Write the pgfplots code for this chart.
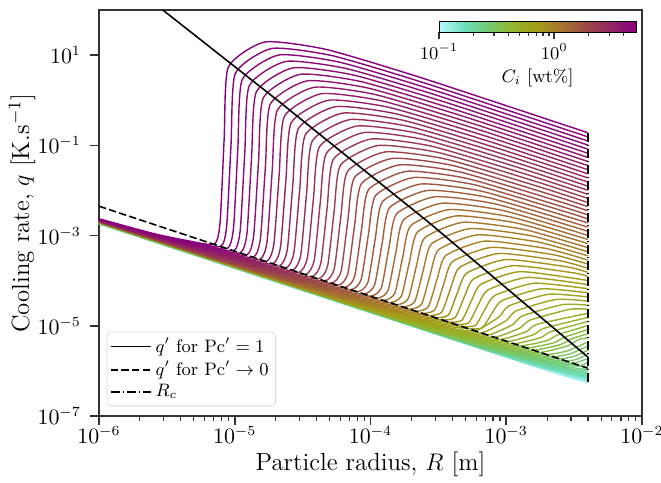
\documentclass[border=0pt]{standalone}
\usepackage{pgfplots}
\pgfplotsset{compat=1.18}
% colormap for C_i (log scale 0.1 .. ~5 wt%)
\pgfplotsset{colormap={cimap}{rgb255=(182,250,255) rgb255=(110,222,190) rgb255=(115,202,110) rgb255=(148,182,45) rgb255=(165,155,22) rgb255=(165,115,48) rgb255=(155,72,72) rgb255=(147,35,100) rgb255=(135,0,125)}}
\pgfplotsset{
  cvs/.style={color of colormap={#1 of cimap}, line width=0.7pt, forget plot, mark=none},
  cv/.style={cvs=#1, smooth, tension=0.35},
}
\begin{document}
\begin{tikzpicture}
\begin{axis}[
  scale only axis, width=271.5pt, height=203pt,
  xmin=-6, xmax=-2, ymin=-7, ymax=2,
  xtick={-6,-5,-4,-3,-2},
  xticklabels={$10^{-6}$,$10^{-5}$,$10^{-4}$,$10^{-3}$,$10^{-2}$},
  minor xtick={-5.699,-5.523,-5.398,-5.301,-5.222,-5.155,-5.097,-5.046,
               -4.699,-4.523,-4.398,-4.301,-4.222,-4.155,-4.097,-4.046,
               -3.699,-3.523,-3.398,-3.301,-3.222,-3.155,-3.097,-3.046,
               -2.699,-2.523,-2.398,-2.301,-2.222,-2.155,-2.097,-2.046},
  ytick={-7,-5,-3,-1,1},
  yticklabels={$10^{-7}$,$10^{-5}$,$10^{-3}$,$10^{-1}$,$10^{1}$},
  xtick pos=bottom, ytick pos=left, tick align=outside,
  major tick length=4.5pt, minor tick length=2.5pt,
  axis line style={black!80, line width=0.8pt},
  every tick/.style={black!80, line width=0.8pt},
  every minor tick/.style={black!80, line width=0.6pt},
  tick label style={font=\fontsize{10.5}{12}\selectfont},
  yticklabel style={xshift=-1pt},
  xticklabel style={yshift=3pt},
  label style={font=\fontsize{12.4}{14}\selectfont},
  xlabel={Particle radius, $R$ [m]},
  ylabel={Cooling rate, $q$ [K.s$^{-1}$]},
  xlabel style={at={(axis description cs:0.5,0)}, anchor=center, yshift=-24pt},
  ylabel style={at={([xshift=-38.5pt]axis description cs:0,0.5)}, anchor=center},
  colormap name=cimap,
  point meta min=-1, point meta max=0.71,
  colorbar horizontal,
  colorbar style={
    at={(parent axis.north east)}, anchor=north east, xshift=-3pt, yshift=3pt,
    width=98.5pt, height=5.5pt,
    xtick={-1,0}, xticklabels={$10^{-1}$,$10^{0}$},
    minor xtick={-0.699,-0.523,-0.398,-0.301,-0.222,-0.155,-0.097,-0.046,0.301,0.477,0.602},
    xtick pos=bottom, xticklabel pos=bottom, tick align=outside,
    major tick length=3.5pt, minor tick length=2pt,
    xlabel={$C_i$ [wt\%]},
    tick label style={font=\fontsize{9}{10}\selectfont},
    xticklabel style={yshift=1pt},
    label style={font=\fontsize{9}{11}\selectfont},
    xlabel style={yshift=2.3pt},
  },
  legend style={at={(0.014,0.024)}, anchor=south west, draw=black!15, rounded corners=2pt,
    fill=white, font=\fontsize{9}{10}\selectfont, inner xsep=1.5pt, inner ysep=1pt, row sep=-1pt},
  legend cell align=left,
  legend image code/.code={\draw[#1] (0pt,0pt) -- (20pt,0pt);},
]
% curves not reaching the jump (low C)
\addplot[cvs=0] coordinates {(-6,-2.740) (-2.546,-6.139) (-2.4,-6.265)};
\addplot[cvs=14] coordinates {(-6,-2.739) (-2.594,-6.090) (-2.4,-6.256)};
\addplot[cvs=27] coordinates {(-6,-2.738) (-2.642,-6.042) (-2.4,-6.246)};
\addplot[cvs=41] coordinates {(-6,-2.737) (-2.69,-5.993) (-2.4,-6.235)};
\addplot[cvs=55] coordinates {(-6,-2.736) (-2.738,-5.944) (-2.4,-6.223)};
\addplot[cvs=68] coordinates {(-6,-2.735) (-2.786,-5.896) (-2.4,-6.210)};
\addplot[cvs=82] coordinates {(-6,-2.734) (-2.834,-5.847) (-2.4,-6.195)};
\addplot[cvs=96] coordinates {(-6,-2.733) (-2.882,-5.798) (-2.4,-6.179)};
\addplot[cvs=110] coordinates {(-6,-2.733) (-2.93,-5.750) (-2.48,-6.108) (-2.4,-6.160)};
\addplot[cvs=123] coordinates {(-6,-2.732) (-2.978,-5.701) (-2.528,-6.059) (-2.4,-6.141)};
\addplot[cvs=137] coordinates {(-6,-2.731) (-3.026,-5.652) (-2.576,-6.011) (-2.4,-6.119)};
\addplot[cvs=151] coordinates {(-6,-2.730) (-3.074,-5.603) (-2.624,-5.962) (-2.4,-6.094)};
\addplot[cvs=164] coordinates {(-6,-2.729) (-3.122,-5.555) (-2.672,-5.914) (-2.4,-6.068)};
\addplot[cvs=178] coordinates {(-6,-2.728) (-3.17,-5.506) (-2.72,-5.865) (-2.47,-6.01) (-2.4,-6.038)};
\addplot[cvs=192] coordinates {(-6,-2.727) (-3.218,-5.457) (-2.768,-5.817) (-2.518,-5.962) (-2.4,-6.005)};
\addplot[cvs=205] coordinates {(-6,-2.726) (-3.266,-5.409) (-2.816,-5.768) (-2.566,-5.913) (-2.4,-5.968)};
% curves that rise
\addplot[cv=219] coordinates {(-6,-2.725) (-3.314,-5.360) (-2.864,-5.720) (-2.614,-5.865) (-2.4,-5.907)};
\addplot[cv=233] coordinates {(-6,-2.724) (-3.362,-5.311) (-2.912,-5.671) (-2.662,-5.817) (-2.462,-5.878) (-2.4,-5.816)};
\addplot[cv=247] coordinates {(-6,-2.724) (-3.41,-5.263) (-2.96,-5.623) (-2.71,-5.769) (-2.51,-5.83) (-2.4,-5.725)};
\addplot[cv=260] coordinates {(-6,-2.723) (-3.458,-5.214) (-3.008,-5.574) (-2.758,-5.720) (-2.558,-5.782) (-2.479,-5.739) (-2.4,-5.634)};
\addplot[cv=274] coordinates {(-6,-2.722) (-3.506,-5.165) (-3.056,-5.526) (-2.806,-5.672) (-2.606,-5.734) (-2.503,-5.678) (-2.4,-5.543)};
\addplot[cv=288] coordinates {(-6,-2.721) (-3.554,-5.116) (-3.104,-5.477) (-2.854,-5.624) (-2.654,-5.686) (-2.527,-5.618) (-2.4,-5.452)};
\addplot[cv=301] coordinates {(-6,-2.720) (-3.602,-5.068) (-3.152,-5.429) (-2.902,-5.575) (-2.702,-5.638) (-2.551,-5.557) (-2.4,-5.361)};
\addplot[cv=315] coordinates {(-6,-2.719) (-3.65,-5.019) (-3.20,-5.380) (-2.95,-5.527) (-2.75,-5.59) (-2.548,-5.445) (-2.463,-5.299) (-2.4,-5.27)};
\addplot[cv=329] coordinates {(-6,-2.719) (-3.698,-4.970) (-3.248,-5.332) (-2.998,-5.479) (-2.798,-5.542) (-2.599,-5.415) (-2.515,-5.283) (-2.4,-5.179)};
\addplot[cv=342] coordinates {(-6,-2.718) (-3.746,-4.922) (-3.296,-5.283) (-3.046,-5.430) (-2.846,-5.494) (-2.649,-5.375) (-2.566,-5.247) (-2.4,-5.088)};
\addplot[cv=356] coordinates {(-6,-2.717) (-3.794,-4.873) (-3.344,-5.235) (-3.094,-5.382) (-2.894,-5.446) (-2.700,-5.329) (-2.618,-5.196) (-2.4,-4.997)};
\addplot[cv=370] coordinates {(-6,-2.716) (-3.842,-4.824) (-3.392,-5.186) (-3.142,-5.334) (-2.942,-5.398) (-2.750,-5.266) (-2.670,-5.130) (-2.4,-4.906)};
\addplot[cv=384] coordinates {(-6,-2.715) (-3.89,-4.776) (-3.44,-5.138) (-3.19,-5.286) (-2.99,-5.35) (-2.801,-5.200) (-2.722,-5.055) (-2.4,-4.815)};
\addplot[cv=397] coordinates {(-6,-2.714) (-3.938,-4.727) (-3.488,-5.089) (-3.238,-5.237) (-3.038,-5.302) (-2.852,-5.129) (-2.773,-4.968) (-2.4,-4.724)};
\addplot[cv=411] coordinates {(-6,-2.713) (-3.986,-4.678) (-3.536,-5.041) (-3.286,-5.189) (-3.086,-5.254) (-2.902,-5.054) (-2.825,-4.875) (-2.531,-4.634) (-2.4,-4.633)};
\addplot[cv=425] coordinates {(-6,-2.712) (-4.034,-4.629) (-3.584,-4.992) (-3.334,-5.141) (-3.134,-5.206) (-2.953,-4.974) (-2.877,-4.775) (-2.583,-4.529) (-2.4,-4.542)};
\addplot[cv=438] coordinates {(-6,-2.711) (-4.082,-4.581) (-3.632,-4.944) (-3.382,-5.092) (-3.182,-5.158) (-3.003,-4.891) (-2.928,-4.671) (-2.636,-4.417) (-2.4,-4.451)};
\addplot[cv=452] coordinates {(-6,-2.710) (-4.13,-4.532) (-3.68,-4.895) (-3.43,-5.044) (-3.23,-5.11) (-3.054,-4.805) (-2.980,-4.558) (-2.688,-4.301) (-2.4,-4.36)};
\addplot[cv=466] coordinates {(-6,-2.709) (-4.178,-4.483) (-3.728,-4.847) (-3.478,-4.996) (-3.278,-5.062) (-3.178,-5.050) (-3.104,-4.717) (-3.032,-4.444) (-2.740,-4.181) (-2.4,-4.269)};
\addplot[cv=479] coordinates {(-6,-2.708) (-4.226,-4.435) (-3.776,-4.798) (-3.526,-4.947) (-3.326,-5.014) (-3.227,-4.991) (-3.155,-4.627) (-3.083,-4.326) (-2.793,-4.056) (-2.4,-4.178)};
\addplot[cv=493] coordinates {(-6,-2.707) (-4.274,-4.386) (-3.824,-4.750) (-3.574,-4.899) (-3.374,-4.966) (-3.277,-4.933) (-3.206,-4.535) (-3.135,-4.205) (-2.845,-3.928) (-2.4,-4.087)};
\addplot[cv=507] coordinates {(-6,-2.706) (-4.322,-4.337) (-3.872,-4.701) (-3.622,-4.851) (-3.422,-4.918) (-3.326,-4.874) (-3.256,-4.442) (-3.187,-4.081) (-2.897,-3.799) (-2.4,-3.996)};
\addplot[cv=521] coordinates {(-6,-2.706) (-4.37,-4.289) (-3.92,-4.653) (-3.67,-4.803) (-3.47,-4.87) (-3.376,-4.815) (-3.307,-4.348) (-3.239,-3.957) (-2.950,-3.667) (-2.500,-3.829) (-2.4,-3.905)};
\addplot[cv=534] coordinates {(-6,-2.705) (-4.418,-4.240) (-3.968,-4.604) (-3.718,-4.754) (-3.518,-4.822) (-3.425,-4.756) (-3.358,-4.252) (-3.290,-3.830) (-3.002,-3.532) (-2.552,-3.694) (-2.4,-3.814)};
\addplot[cv=548] coordinates {(-6,-2.704) (-4.466,-4.191) (-4.016,-4.556) (-3.766,-4.706) (-3.566,-4.774) (-3.475,-4.696) (-3.408,-4.156) (-3.342,-3.702) (-3.054,-3.397) (-2.604,-3.559) (-2.4,-3.723)};
\addplot[cv=562] coordinates {(-6,-2.703) (-4.514,-4.142) (-4.064,-4.507) (-3.814,-4.658) (-3.614,-4.726) (-3.524,-4.637) (-3.459,-4.059) (-3.394,-3.573) (-3.106,-3.261) (-2.656,-3.423) (-2.4,-3.632)};
\addplot[cv=575] coordinates {(-6,-2.702) (-4.562,-4.094) (-4.112,-4.459) (-3.862,-4.609) (-3.662,-4.678) (-3.574,-4.577) (-3.509,-3.962) (-3.445,-3.442) (-3.159,-3.123) (-2.709,-3.285) (-2.4,-3.541)};
\addplot[cv=589] coordinates {(-6,-2.701) (-4.61,-4.045) (-4.16,-4.410) (-3.91,-4.561) (-3.71,-4.63) (-3.623,-4.517) (-3.560,-3.863) (-3.497,-3.311) (-3.211,-2.984) (-2.761,-3.146) (-2.4,-3.45)};
\addplot[cv=603] coordinates {(-6,-2.700) (-4.658,-3.996) (-4.208,-4.362) (-3.958,-4.513) (-3.758,-4.582) (-3.673,-4.458) (-3.611,-3.765) (-3.549,-3.180) (-3.263,-2.845) (-2.813,-3.007) (-2.4,-3.359)};
\addplot[cv=616] coordinates {(-6,-2.699) (-4.706,-3.948) (-4.256,-4.313) (-4.006,-4.464) (-3.806,-4.534) (-3.722,-4.397) (-3.661,-3.666) (-3.600,-3.047) (-3.316,-2.705) (-2.866,-2.867) (-2.4,-3.268)};
\addplot[cv=630] coordinates {(-6,-2.698) (-4.754,-3.899) (-4.304,-4.265) (-4.054,-4.416) (-3.854,-4.486) (-3.772,-4.337) (-3.712,-3.567) (-3.652,-2.915) (-3.368,-2.564) (-2.918,-2.726) (-2.4,-3.177)};
\addplot[cv=644] coordinates {(-6,-2.697) (-4.802,-3.850) (-4.352,-4.216) (-4.102,-4.368) (-3.902,-4.438) (-3.821,-4.277) (-3.762,-3.468) (-3.704,-2.781) (-3.420,-2.424) (-2.970,-2.586) (-2.4,-3.086)};
\addplot[cv=658] coordinates {(-6,-2.697) (-4.85,-3.802) (-4.40,-4.168) (-4.15,-4.320) (-3.95,-4.39) (-3.871,-4.217) (-3.813,-3.368) (-3.756,-2.647) (-3.473,-2.283) (-3.023,-2.445) (-2.4,-2.995)};
\addplot[cv=671] coordinates {(-6,-2.696) (-4.898,-3.753) (-4.448,-4.119) (-4.198,-4.271) (-3.998,-4.342) (-3.920,-4.157) (-3.864,-3.268) (-3.807,-2.514) (-3.525,-2.140) (-3.075,-2.302) (-2.4,-2.904)};
\addplot[cv=685] coordinates {(-6,-2.695) (-4.946,-3.704) (-4.496,-4.071) (-4.246,-4.223) (-4.046,-4.294) (-3.970,-4.096) (-3.914,-3.169) (-3.859,-2.379) (-3.577,-1.999) (-3.127,-2.161) (-2.4,-2.813)};
\addplot[cv=699] coordinates {(-6,-2.694) (-4.994,-3.655) (-4.544,-4.022) (-4.294,-4.175) (-4.094,-4.246) (-4.019,-4.036) (-3.965,-3.069) (-3.911,-2.245) (-3.629,-1.857) (-3.179,-2.019) (-2.479,-2.645) (-2.4,-2.722)};
\addplot[cv=712] coordinates {(-6,-2.693) (-5.042,-3.607) (-4.592,-3.974) (-4.342,-4.126) (-4.142,-4.198) (-4.069,-3.976) (-4.015,-2.969) (-3.962,-2.110) (-3.682,-1.714) (-3.232,-1.876) (-2.532,-2.502) (-2.4,-2.631)};
\addplot[cv=726] coordinates {(-6,-2.690) (-5.09,-3.558) (-4.64,-3.925) (-4.39,-4.078) (-4.19,-4.15) (-4.118,-3.916) (-4.066,-2.871) (-4.014,-1.980) (-3.734,-1.576) (-3.284,-1.738) (-2.584,-2.364) (-2.4,-2.54)};
\addplot[cv=740] coordinates {(-6,-2.689) (-5.138,-3.509) (-4.688,-3.877) (-4.438,-4.030) (-4.238,-4.102) (-4.168,-3.856) (-4.117,-2.770) (-4.066,-1.845) (-3.786,-1.433) (-3.336,-1.595) (-2.636,-2.221) (-2.4,-2.449)};
\addplot[cv=753] coordinates {(-6,-2.687) (-5.186,-3.461) (-4.736,-3.828) (-4.486,-3.981) (-4.286,-4.054) (-4.217,-3.795) (-4.167,-2.670) (-4.117,-1.709) (-3.839,-1.289) (-3.389,-1.451) (-2.689,-2.077) (-2.4,-2.358)};
\addplot[cv=767] coordinates {(-6,-2.686) (-5.234,-3.412) (-4.784,-3.780) (-4.534,-3.933) (-4.334,-4.006) (-4.267,-3.735) (-4.218,-2.569) (-4.169,-1.574) (-3.891,-1.146) (-3.441,-1.308) (-2.741,-1.934) (-2.4,-2.267)};
\addplot[cv=781] coordinates {(-6,-2.684) (-5.282,-3.363) (-4.832,-3.731) (-4.582,-3.885) (-4.382,-3.958) (-4.316,-3.674) (-4.268,-2.469) (-4.221,-1.438) (-3.943,-1.003) (-3.493,-1.165) (-2.793,-1.791) (-2.4,-2.176)};
\addplot[cv=795] coordinates {(-6,-2.682) (-5.33,-3.315) (-4.88,-3.683) (-4.63,-3.837) (-4.43,-3.91) (-4.366,-3.614) (-4.319,-2.368) (-4.273,-1.303) (-3.996,-0.860) (-3.546,-1.022) (-2.846,-1.648) (-2.4,-2.085)};
\addplot[cv=808] coordinates {(-6,-2.680) (-5.378,-3.266) (-4.928,-3.634) (-4.678,-3.788) (-4.478,-3.862) (-4.415,-3.554) (-4.370,-2.267) (-4.324,-1.168) (-4.048,-0.716) (-3.598,-0.878) (-2.898,-1.504) (-2.4,-1.994)};
\addplot[cv=822] coordinates {(-6,-2.677) (-5.426,-3.217) (-4.976,-3.586) (-4.726,-3.740) (-4.526,-3.814) (-4.465,-3.493) (-4.420,-2.167) (-4.376,-1.032) (-4.100,-0.573) (-3.650,-0.735) (-2.950,-1.361) (-2.4,-1.903)};
\addplot[cv=836] coordinates {(-6,-2.675) (-5.474,-3.168) (-5.024,-3.537) (-4.774,-3.692) (-4.574,-3.766) (-4.514,-3.433) (-4.471,-2.066) (-4.428,-0.897) (-4.152,-0.430) (-3.702,-0.592) (-3.002,-1.218) (-2.4,-1.812)};
\addplot[cv=849] coordinates {(-6,-2.673) (-5.522,-3.120) (-5.072,-3.489) (-4.822,-3.643) (-4.622,-3.718) (-4.564,-3.372) (-4.521,-1.966) (-4.479,-0.761) (-4.205,-0.286) (-3.755,-0.448) (-3.055,-1.074) (-2.4,-1.721)};
\addplot[cv=863] coordinates {(-6,-2.670) (-5.57,-3.071) (-5.12,-3.440) (-4.87,-3.595) (-4.67,-3.67) (-4.613,-3.312) (-4.572,-1.865) (-4.531,-0.626) (-4.257,-0.143) (-3.807,-0.305) (-3.107,-0.931) (-2.4,-1.63)};
\addplot[cv=877] coordinates {(-6,-2.667) (-5.618,-3.022) (-5.168,-3.392) (-4.918,-3.547) (-4.718,-3.622) (-4.663,-3.252) (-4.623,-1.764) (-4.583,-0.491) (-4.309,0.000) (-3.859,-0.162) (-3.159,-0.788) (-2.4,-1.539)};
\addplot[cv=890] coordinates {(-6,-2.664) (-5.666,-2.974) (-5.216,-3.343) (-4.966,-3.498) (-4.766,-3.574) (-4.712,-3.191) (-4.673,-1.664) (-4.634,-0.355) (-4.362,0.144) (-3.912,-0.018) (-3.212,-0.644) (-2.4,-1.448)};
\addplot[cv=904] coordinates {(-6,-2.661) (-5.714,-2.925) (-5.264,-3.295) (-5.014,-3.450) (-4.814,-3.526) (-4.762,-3.131) (-4.724,-1.563) (-4.686,-0.220) (-4.414,0.287) (-3.964,0.125) (-3.264,-0.501) (-2.4,-1.357)};
\addplot[cv=918] coordinates {(-6,-2.657) (-5.762,-2.876) (-5.312,-3.246) (-5.062,-3.402) (-4.862,-3.478) (-4.811,-3.070) (-4.774,-1.463) (-4.738,-0.084) (-4.466,0.430) (-4.016,0.268) (-3.316,-0.358) (-2.4,-1.266)};
\addplot[cv=932] coordinates {(-6,-2.654) (-5.81,-2.828) (-5.36,-3.198) (-5.11,-3.354) (-4.91,-3.43) (-4.861,-3.010) (-4.825,-1.362) (-4.790,0.051) (-4.519,0.574) (-4.069,0.412) (-3.369,-0.215) (-2.4,-1.175)};
\addplot[cv=945] coordinates {(-6,-2.649) (-5.408,-3.149) (-5.158,-3.305) (-4.958,-3.382) (-4.910,-2.950) (-4.876,-1.261) (-4.841,0.186) (-4.571,0.717) (-4.121,0.555) (-3.421,-0.071) (-2.4,-1.084)};
\addplot[cv=959] coordinates {(-6,-2.645) (-5.456,-3.101) (-5.206,-3.257) (-5.006,-3.334) (-4.960,-2.889) (-4.926,-1.161) (-4.893,0.322) (-4.623,0.860) (-4.173,0.698) (-3.473,0.072) (-2.4,-0.993)};
\addplot[cv=973] coordinates {(-6,-2.640) (-5.504,-3.052) (-5.254,-3.209) (-5.054,-3.286) (-5.009,-2.829) (-4.977,-1.060) (-4.945,0.457) (-4.675,1.003) (-4.225,0.841) (-3.525,0.215) (-2.4,-0.902)};
\addplot[cv=986] coordinates {(-6,-2.635) (-5.552,-3.004) (-5.302,-3.160) (-5.102,-3.238) (-5.059,-2.768) (-5.027,-0.960) (-4.996,0.593) (-4.728,1.147) (-4.278,0.985) (-3.578,0.359) (-2.4,-0.811)};
\addplot[cv=1000] coordinates {(-6,-2.629) (-5.6,-2.955) (-5.35,-3.112) (-5.15,-3.19) (-5.108,-2.708) (-5.078,-0.859) (-5.048,0.728) (-4.78,1.29) (-4.33,1.128) (-3.63,0.502) (-2.4,-0.72)};
% reference lines
\addplot[black, line width=0.8pt] coordinates {(-5.53,2) (-4.669,-0.04) (-3.566,-2.72) (-2.4,-5.69)};
\addlegendentry{$q^{\prime}$ for $\mathrm{Pc}^{\prime}=1$}
\addplot[black, line width=0.8pt, dash pattern=on 3.7pt off 1.6pt] coordinates {(-6,-2.35) (-2.4,-5.94)};
\addlegendentry{$q^{\prime}$ for $\mathrm{Pc}^{\prime}\rightarrow 0$}
\addplot[black, line width=0.8pt, dash pattern=on 4.8pt off 1.2pt on 0.8pt off 1.2pt] coordinates {(-2.4,-0.72) (-2.4,-6.27)};
\addlegendentry{$R_c$}
\end{axis}
\pgfresetboundingbox
\path ([xshift=-49.5pt,yshift=-33pt]current axis.south west) rectangle ([xshift=9.5pt,yshift=5pt]current axis.north east);
\end{tikzpicture}
\end{document}
